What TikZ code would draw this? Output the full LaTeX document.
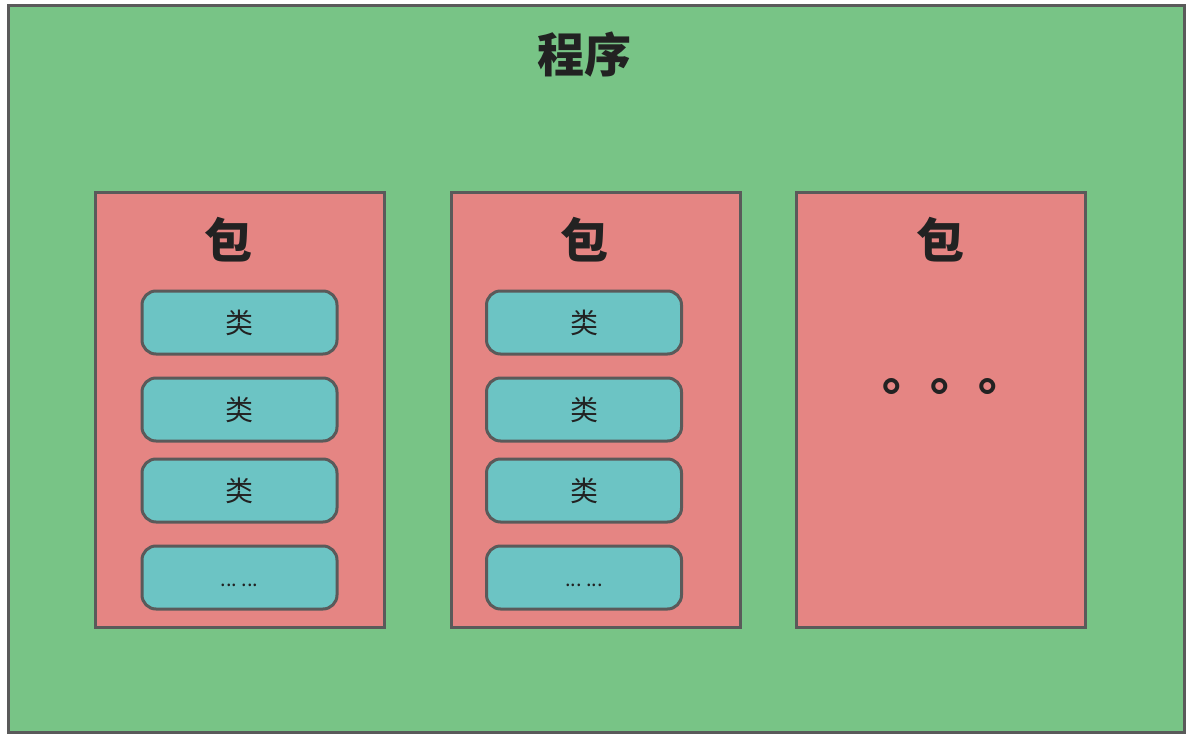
\documentclass[tikz,border=0pt]{standalone}
\usepackage{fontspec}
\newfontfamily\cjk{Noto Sans CJK SC}
\definecolor{bggreen}{RGB}{120,196,134}
\definecolor{pkgred}{RGB}{229,133,131}
\definecolor{clsteal}{RGB}{108,196,196}
\definecolor{edgegray}{RGB}{90,90,90}
\definecolor{txt}{RGB}{34,34,34}
\begin{document}
\begin{tikzpicture}[x=1pt,y=-1pt,
  pkgbox/.style={draw=edgegray,line width=3pt,fill=pkgred,minimum width=289pt,minimum height=435pt,inner sep=0pt},
  clsbox/.style={draw=edgegray,line width=3pt,fill=clsteal,rounded corners=14pt,minimum width=195pt,minimum height=63pt,inner sep=0pt,font=\cjk\fontsize{28}{30}\selectfont,text=txt},
  pkgtitle/.style={font=\cjk\bfseries\fontsize{48}{52}\selectfont,text=txt,inner sep=0pt},
  dotstxt/.style={font=\cjk\fontsize{20}{22}\selectfont,text=txt,inner sep=0pt}]
\useasboundingbox (0,0) rectangle (1196,738);
\fill[white] (0,0) rectangle (1196,738);
\node[draw=edgegray,line width=3pt,fill=bggreen,minimum width=1176pt,minimum height=726pt,inner sep=0pt] (prog) at (596,369) {};
\node[pkgtitle,font=\cjk\bfseries\fontsize{47}{50}\selectfont] (progt) at (584,55) {程序};
\foreach \i/\cx in {1/240,2/596,3/940.5}{
  \node[pkgbox] (pkg\i) at (\cx,410) {};
}
\node[pkgtitle] (p1t) at (228,240) {包};
\node[pkgtitle] (p2t) at (584,240) {包};
\node[pkgtitle] (p3t) at (940,240) {包};
\foreach \i/\cx in {1/239.5,2/584}{
  \node[clsbox] (c\i a) at (\cx,322.5) {类};
  \node[clsbox] (c\i b) at (\cx,409.5) {类};
  \node[clsbox] (c\i c) at (\cx,490.5) {类};
  \node[clsbox] (c\i d) at (\cx,577.5) {};
  \node[dotstxt] (c\i dt) at ([yshift=-8pt]c\i d.center) {...\ ...};
}
\node[font=\cjk\bfseries\fontsize{48}{50}\selectfont,text=txt,inner sep=0pt,anchor=base west] (dots) at (882,390) {。。。};
\end{tikzpicture}
\end{document}
